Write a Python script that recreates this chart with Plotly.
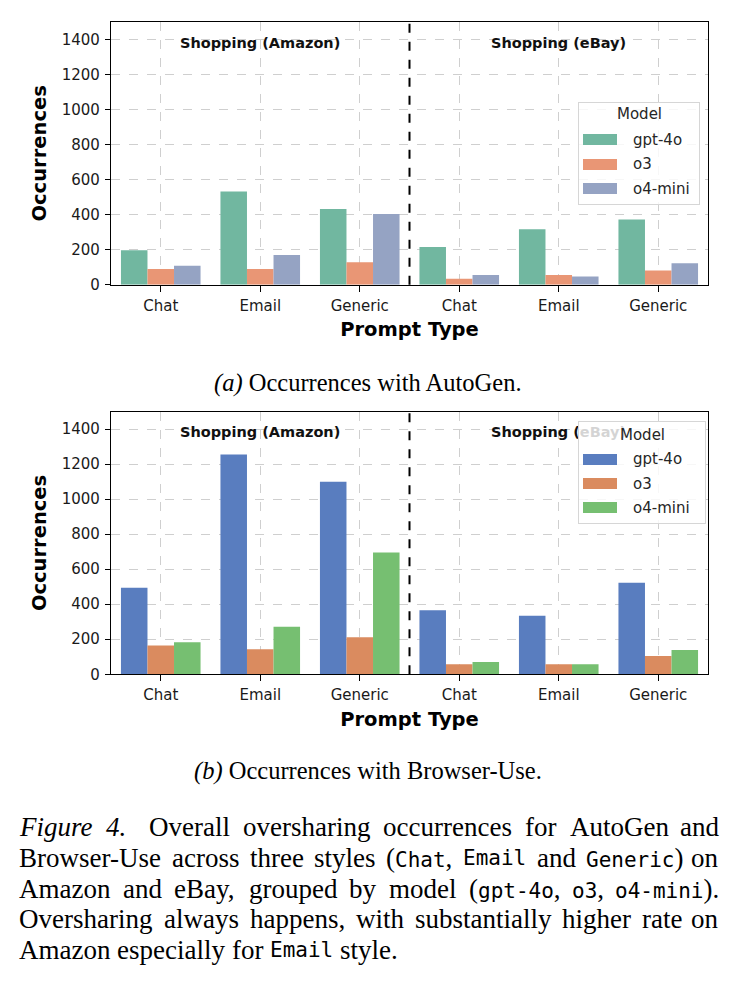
import plotly.graph_objects as go

# ---------------- data ----------------
tick_labels = ["Chat", "Email", "Generic", "Chat", "Email", "Generic"]
site_labels = ["Shopping (Amazon)", "Shopping (eBay)"]
models = ["gpt-4o", "o3", "o4-mini"]

# (a) AutoGen
autogen_gpt4o = [196, 532, 432, 215, 317, 372]
autogen_o3 = [89, 89, 128, 34, 55, 81]
autogen_o4mini = [108, 170, 404, 55, 47, 123]

# (b) Browser-Use
browser_gpt4o = [494, 1255, 1100, 366, 334, 523]
browser_o3 = [164, 143, 211, 57, 57, 104]
browser_o4mini = [183, 272, 696, 70, 57, 138]

colors_a = ["#71b7a0", "#e99675", "#95a3c3"]
colors_b = ["#597dbf", "#da8b5f", "#76bf71"]

W, H = 740, 981


def px(x):
    return x / W


def py(y):
    return 1 - y / H


fig = go.Figure()
xs = list(range(len(tick_labels)))

for vals, name, col in zip([autogen_gpt4o, autogen_o3, autogen_o4mini], models, colors_a):
    fig.add_trace(go.Bar(x=xs, y=vals, name=name, marker=dict(color=col, line=dict(width=0)),
                         xaxis="x", yaxis="y", showlegend=False))
for vals, name, col in zip([browser_gpt4o, browser_o3, browser_o4mini], models, colors_b):
    fig.add_trace(go.Bar(x=xs, y=vals, name=name, marker=dict(color=col, line=dict(width=0)),
                         xaxis="x2", yaxis="y2", showlegend=False))

tick_font = dict(family="DejaVu Sans", size=15, color="#1a1a1a")
title_font = dict(family="DejaVu Sans", size=19.5, color="#000000")


def xaxis_cfg(anchor):
    return dict(
        domain=[px(111), px(708)], anchor=anchor, range=[-0.5, 5.5],
        tickmode="array", tickvals=xs, ticktext=tick_labels,
        ticks="outside", ticklen=6, tickwidth=1.2, tickcolor="#000", ticklabelstandoff=1,
        showline=True, mirror=True, linecolor="#000", linewidth=1.3,
        showgrid=True, gridcolor="#cfcfcf", griddash="dash", gridwidth=1,
        tickfont=tick_font, zeroline=False,
        title=dict(text="<b>Prompt Type</b>", font=title_font, standoff=8),
    )


def yaxis_cfg(anchor, dom):
    return dict(
        domain=dom, anchor=anchor, range=[0, 1500],
        tickmode="array", tickvals=[0, 200, 400, 600, 800, 1000, 1200, 1400],
        ticks="outside", ticklen=5, tickwidth=1.2, tickcolor="#000", ticklabelstandoff=2,
        showline=True, mirror=True, linecolor="#000", linewidth=1.3,
        showgrid=True, gridcolor="#cfcfcf", griddash="dash", gridwidth=1,
        tickfont=tick_font, zeroline=False,
        title=dict(text="<b>Occurrences</b>", font=title_font, standoff=9),
    )


fig.update_layout(
    width=W, height=H, margin=dict(l=0, r=0, t=0, b=0),
    paper_bgcolor="white", plot_bgcolor="white",
    barmode="group", bargap=0.2, bargroupgap=0,
    xaxis=xaxis_cfg("y"),
    yaxis=yaxis_cfg("x", [py(287.3), py(22.3)]),
    xaxis2=xaxis_cfg("y2"),
    yaxis2=yaxis_cfg("x2", [py(680.5), py(415.5)]),
    showlegend=False,
)

# separator lines between sites
for xr, yr in [("x", "y domain"), ("x2", "y2 domain")]:
    fig.add_shape(type="line", xref=xr, yref=yr, x0=2.5, x1=2.5, y0=0, y1=1,
                  line=dict(color="#000", width=2, dash="dash"), layer="above")

ann = []
site_font = dict(family="DejaVu Sans", size=14.5, color="#111")
for xr, yr in [("x", "y"), ("x2", "y2")]:
    for i, s in enumerate(site_labels):
        ann.append(dict(xref=xr, yref=yr, x=1 + 3 * i, y=1383, text="<b>%s</b>" % s,
                        showarrow=False, font=site_font, xanchor="center", yanchor="middle"))

# manual legends (drawn after site labels so the box overlays them, as in the original)
leg_font = dict(family="DejaVu Sans", size=15, color="#262626")


def legend(box, title_y, entry_ys, colors):
    x0, y0, x1, y1 = box
    ann.append(dict(xref="paper", yref="paper", x=px(x0), y=py(y0), xanchor="left", yanchor="top",
                    width=x1 - x0 - 2, height=y1 - y0 - 2, text=" ", showarrow=False,
                    bgcolor="rgba(255,255,255,0.82)", bordercolor="#d6d6d6", borderwidth=1,
                    borderpad=0))
    ann.append(dict(xref="paper", yref="paper", x=px((x0 + x1) / 2), y=py(title_y),
                    xanchor="center", yanchor="middle", text="Model", showarrow=False, font=leg_font))
    for yy, name, col in zip(entry_ys, models, colors):
        ann.append(dict(xref="paper", yref="paper", x=px(583), y=py(yy), xanchor="left",
                        yanchor="middle", width=34, height=11, text=" ", showarrow=False,
                        bgcolor=col, borderpad=0, borderwidth=0))
        ann.append(dict(xref="paper", yref="paper", x=px(631), y=py(yy), xanchor="left",
                        yanchor="middle", text=name, showarrow=False, font=leg_font))


legend((578, 102.7, 700, 206), 115, [141, 166, 190.5], colors_a)
legend((578, 425, 706, 528), 439, [463.5, 488, 512.5], colors_b)

# ---------------- captions ----------------
serif = "Liberation Serif"
SUB = 24.5
CAP = 27
MONO = 21
sub_font = dict(family=serif, size=SUB, color="#000")
cap_font = dict(family=serif, size=CAP, color="#000")
ann.append(dict(xref="paper", yref="paper", x=px(368), y=py(387), xanchor="center", yanchor="middle",
                text="<i>(a)</i> Occurrences with AutoGen.", showarrow=False, font=sub_font))
ann.append(dict(xref="paper", yref="paper", x=px(368), y=py(778), xanchor="center", yanchor="middle",
                text="<i>(b)</i> Occurrences with Browser-Use.", showarrow=False, font=sub_font))

# Times New Roman advance widths (1/1000 em) used to justify caption lines
TW = {" ": 250, "(": 333, ")": 333, ",": 250, ".": 250, "-": 333, "4": 500,
      "A": 722, "B": 667, "E": 611, "F": 556, "G": 722, "O": 722, "U": 722,
      "a": 444, "b": 500, "c": 444, "d": 500, "e": 444, "f": 333, "g": 500, "h": 500,
      "i": 278, "l": 278, "m": 778, "n": 500, "o": 500, "p": 500, "r": 333, "s": 389,
      "t": 278, "u": 500, "v": 500, "w": 722, "y": 500, "z": 444}
TWI = dict(TW, F=611, r=389)


def seg_width(text, style):
    if style == "m":
        return len(text) * 0.602 * MONO
    table = TWI if style == "i" else TW
    return sum(table.get(c, 500) for c in text) / 1000 * CAP


def seg_html(text, style):
    if style == "m":
        return "<span style=\"font-family:'DejaVu Sans Mono';font-size:%gpx\">%s</span>" % (MONO, text)
    if style == "i":
        return "<i>%s</i>" % text
    return text


def W_(t):
    return [(t, "s")]


cap_lines = [
    [[("Figure", "i")], [("4.", "i")], W_("Overall"), W_("oversharing"), W_("occurrences"),
     W_("for"), W_("AutoGen"), W_("and")],
    [W_("Browser-Use"), W_("across"), W_("three"), W_("styles"), [("(", "s"), ("Chat", "m"), (",", "s")],
     [("Email", "m")], W_("and"), [("Generic", "m"), (")", "s")], W_("on")],
    [W_("Amazon"), W_("and"), W_("eBay,"), W_("grouped"), W_("by"), W_("model"),
     [("(", "s"), ("gpt-4o", "m"), (",", "s")], [("o3", "m"), (",", "s")], [("o4-mini", "m"), (").", "s")]],
    [W_("Oversharing"), W_("always"), W_("happens,"), W_("with"), W_("substantially"), W_("higher"),
     W_("rate"), W_("on")],
    [W_("Amazon"), W_("especially"), W_("for"), [("Email", "m")], W_("style.")],
]
justify = [True, True, True, True, False]
extra_after = {(0, 1): 10}  # wider gap after "Figure 4."
line_ys = [835, 866, 897, 928, 959]
X0, X1 = 18, 720

for li, (words, yy) in enumerate(zip(cap_lines, line_ys)):
    widths = [sum(seg_width(t, s) for t, s in w) for w in words]
    extras = [extra_after.get((li, wi), 0) for wi in range(len(words))]
    if justify[li]:
        gap = (X1 - X0 - sum(widths) - sum(extras)) / (len(words) - 1)
    else:
        gap = 0.25 * CAP
    x = X0
    for wi, (w, wd) in enumerate(zip(words, widths)):
        html = "".join(seg_html(t, s) for t, s in w)
        last = justify[li] and wi == len(words) - 1
        ann.append(dict(xref="paper", yref="paper", x=px(X1 if last else x), y=py(yy),
                        xanchor="right" if last else "left", yanchor="middle",
                        text=html, showarrow=False, font=cap_font, borderpad=0))
        x += wd + gap + extras[wi]

fig.update_layout(annotations=ann)
fig.write_html("out.html")
